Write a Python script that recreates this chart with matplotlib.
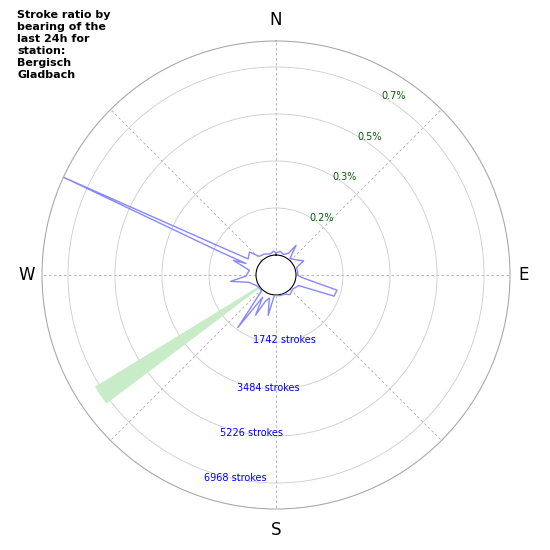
import numpy as np
import matplotlib
matplotlib.use("Agg")
import matplotlib.pyplot as plt

PX = 37.06  # strokes per pixel (used only for layout helpers)
bearings = [0, 10, 20, 30, 34, 40, 50, 63, 70, 80, 90, 95, 104, 110, 115, 130, 145, 155, 170, 180,
            185, 191, 196, 202, 207, 211, 216, 222, 230, 240, 255, 262, 268, 280, 289, 291, 292.5,
            294.7, 297, 300, 311, 318, 330, 345, 355]
strokes = [70, 150, 70, 190, 590, 70, 150, 410, 70, 70, 70, 190, 1590, 1550, 190, 70, 150, 40, 40, 0,
           40, 780, 150, 300, 930, 220, 1670, 70, 40, 70, 300, 960, 370, 260, 930, 450, 1500,
           7930, 1500, 450, 560, 190, 150, 70, 150]
ring_values = [1742, 3484, 5226, 6968]
ring_labels = ["1742 strokes", "3484 strokes", "5226 strokes", "6968 strokes"]
pct_labels = ["0.2%", "0.3%", "0.5%", "0.7%"]
wedge_bearing = (233, 238.5)
wedge_value = 7150
rmax = 7931

fig = plt.figure(figsize=(5.5, 5.5), dpi=100)
ax = fig.add_axes([42/550, 41/550, 468/550, 468/550], projection="polar")
ax.set_theta_zero_location("N")
ax.set_theta_direction(-1)
ax.set_rorigin(-20*PX)
ax.set_ylim(0, rmax)

th = np.radians(np.linspace(*wedge_bearing, 10))
ax.fill_between(th, 0, wedge_value, color="#c8ecc8", lw=0, zorder=2)

t = np.radians(bearings + [bearings[0]])
v = strokes + [strokes[0]]
ax.plot(t, v, color="#8888ff", lw=1, zorder=3)

ax.set_xticks(np.radians(np.arange(0, 360, 45)))
ax.set_xticklabels([])
ax.xaxis.grid(True, color="#aaaaaa", ls=(0, (3, 3)), lw=0.6)
ax.set_yticks(ring_values)
ax.set_yticklabels([])
ax.yaxis.grid(True, color="#cccccc", ls="-", lw=0.6)
ax.spines["polar"].set_color("#aaaaaa")
ax.spines["polar"].set_linewidth(0.8)
ax.spines["inner"].set_color("black")
ax.spines["inner"].set_linewidth(0.8)

for lab, ang, off in zip(["N", "E", "S", "W"], [0, 90, 180, 270], [21, 14, 21, 15]):
    ax.text(np.radians(ang), rmax + off*PX, lab, ha="center", va="center", fontsize=12)

lab_bear = [172.5, 184, 188.7, 191.2]
for rv, lab, b in zip(ring_values, ring_labels, lab_bear):
    ax.text(np.radians(b), rv - 1*PX, lab, ha="center", va="center", fontsize=7, color="blue")
pct_bear = [39, 35, 34.3, 33.2]
for rv, lab, b in zip(ring_values, pct_labels, pct_bear):
    ax.text(np.radians(b), rv + 6*PX, lab, ha="center", va="center", fontsize=7, color="darkgreen")

fig.text(17/550, 1 - 10/550, "Stroke ratio by\nbearing of the\nlast 24h for\nstation:\nBergisch\nGladbach",
         ha="left", va="top", fontsize=8, fontweight="bold", linespacing=1.25)
fig.savefig("out.png", dpi=100)
